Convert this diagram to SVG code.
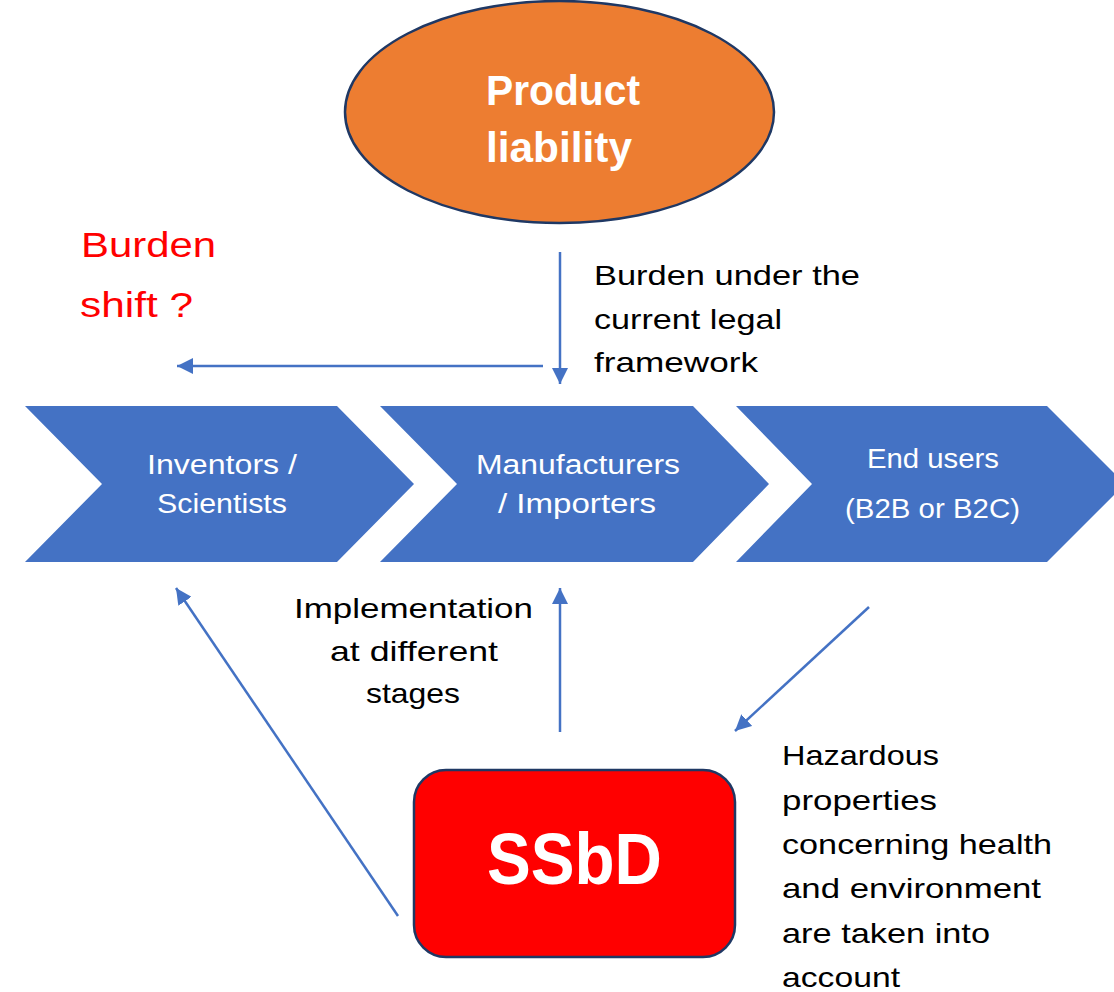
<svg xmlns="http://www.w3.org/2000/svg" width="1114" height="992" viewBox="0 0 1114 992">
  <style>
    text { font-family: "Liberation Sans", Arial, sans-serif; }
    .chev { fill: #4472C4; }
    .chevtxt { fill: #FFFFFF; font-size: 27px; }
    .lbl { fill: #000000; font-size: 28px; }
    .red { fill: #FF0000; font-size: 35px; }
    .conn { stroke: #4472C4; stroke-width: 2.5; fill: none; marker-end: url(#ah); }
  </style>
  <defs>
    <marker id="ah" markerUnits="userSpaceOnUse" markerWidth="18" markerHeight="16" refX="16" refY="8" orient="auto">
      <path d="M0,0 L16,8 L0,16 Z" fill="#4472C4"/>
    </marker>
  </defs>
  <rect width="1114" height="992" fill="#FFFFFF"/>

  <g id="product-liability">
    <ellipse cx="559.5" cy="112" rx="214.5" ry="111" fill="#ED7D31" stroke="#1F3864" stroke-width="2.5"/>
    <text x="486" y="105" fill="#FFFFFF" font-size="42" font-weight="bold" textLength="154" lengthAdjust="spacingAndGlyphs">Product</text>
    <text x="486" y="162" fill="#FFFFFF" font-size="42" font-weight="bold" textLength="146" lengthAdjust="spacingAndGlyphs">liability</text>
  </g>

  <g id="burden-shift">
    <text class="red" x="81" y="257" textLength="135" lengthAdjust="spacingAndGlyphs">Burden</text>
    <text class="red" x="80" y="317" textLength="113" lengthAdjust="spacingAndGlyphs">shift ?</text>
  </g>

  <g id="burden-label">
    <text class="lbl" x="594" y="285" textLength="266" lengthAdjust="spacingAndGlyphs">Burden under the</text>
    <text class="lbl" x="594" y="329" textLength="188" lengthAdjust="spacingAndGlyphs">current legal</text>
    <text class="lbl" x="594" y="372" textLength="164" lengthAdjust="spacingAndGlyphs">framework</text>
  </g>

  <g id="inventors">
    <polygon class="chev" points="25,406 337,406 414,484 337,562 25,562 102,484"/>
    <text class="chevtxt" x="147" y="474" textLength="150" lengthAdjust="spacingAndGlyphs">Inventors /</text>
    <text class="chevtxt" x="157" y="513" textLength="130" lengthAdjust="spacingAndGlyphs">Scientists</text>
  </g>

  <g id="manufacturers">
    <polygon class="chev" points="380,406 693,406 769,484 693,562 380,562 457,484"/>
    <text class="chevtxt" x="476" y="474" textLength="204" lengthAdjust="spacingAndGlyphs">Manufacturers</text>
    <text class="chevtxt" x="498" y="513" textLength="158" lengthAdjust="spacingAndGlyphs">/ Importers</text>
  </g>

  <g id="end-users">
    <polygon class="chev" points="736,406 1047,406 1125,484 1047,562 736,562 812,484"/>
    <text class="chevtxt" x="867" y="468" textLength="132" lengthAdjust="spacingAndGlyphs">End users</text>
    <text class="chevtxt" x="845" y="518" textLength="175" lengthAdjust="spacingAndGlyphs">(B2B or B2C)</text>
  </g>

  <g id="implementation-label">
    <text class="lbl" x="294" y="618" textLength="239" lengthAdjust="spacingAndGlyphs">Implementation</text>
    <text class="lbl" x="330" y="661" textLength="168" lengthAdjust="spacingAndGlyphs">at different</text>
    <text class="lbl" x="366" y="703" textLength="94" lengthAdjust="spacingAndGlyphs">stages</text>
  </g>

  <g id="ssbd">
    <rect x="414" y="770" width="321" height="187" rx="32" ry="32" fill="#FF0000" stroke="#1F3864" stroke-width="2.5"/>
    <text x="487" y="884" fill="#FFFFFF" font-size="72" font-weight="bold" textLength="175" lengthAdjust="spacingAndGlyphs">SSbD</text>
  </g>

  <g id="hazardous-label">
    <text class="lbl" x="782" y="765" font-size="30" textLength="157" lengthAdjust="spacingAndGlyphs">Hazardous</text>
    <text class="lbl" x="782" y="810" font-size="30" textLength="155" lengthAdjust="spacingAndGlyphs">properties</text>
    <text class="lbl" x="782" y="854" font-size="30" textLength="270" lengthAdjust="spacingAndGlyphs">concerning health</text>
    <text class="lbl" x="782" y="898" font-size="30" textLength="259" lengthAdjust="spacingAndGlyphs">and environment</text>
    <text class="lbl" x="782" y="943" font-size="30" textLength="208" lengthAdjust="spacingAndGlyphs">are taken into</text>
    <text class="lbl" x="782" y="987" font-size="30" textLength="118" lengthAdjust="spacingAndGlyphs">account</text>
  </g>

  <g id="connectors">
    <line class="conn" x1="560" y1="252" x2="560" y2="384"/>
    <line class="conn" x1="543" y1="366" x2="177" y2="366"/>
    <line class="conn" x1="560" y1="732" x2="560" y2="588"/>
    <line class="conn" x1="398" y1="916" x2="176" y2="588"/>
    <line class="conn" x1="869" y1="607" x2="735" y2="731"/>
  </g>
</svg>
